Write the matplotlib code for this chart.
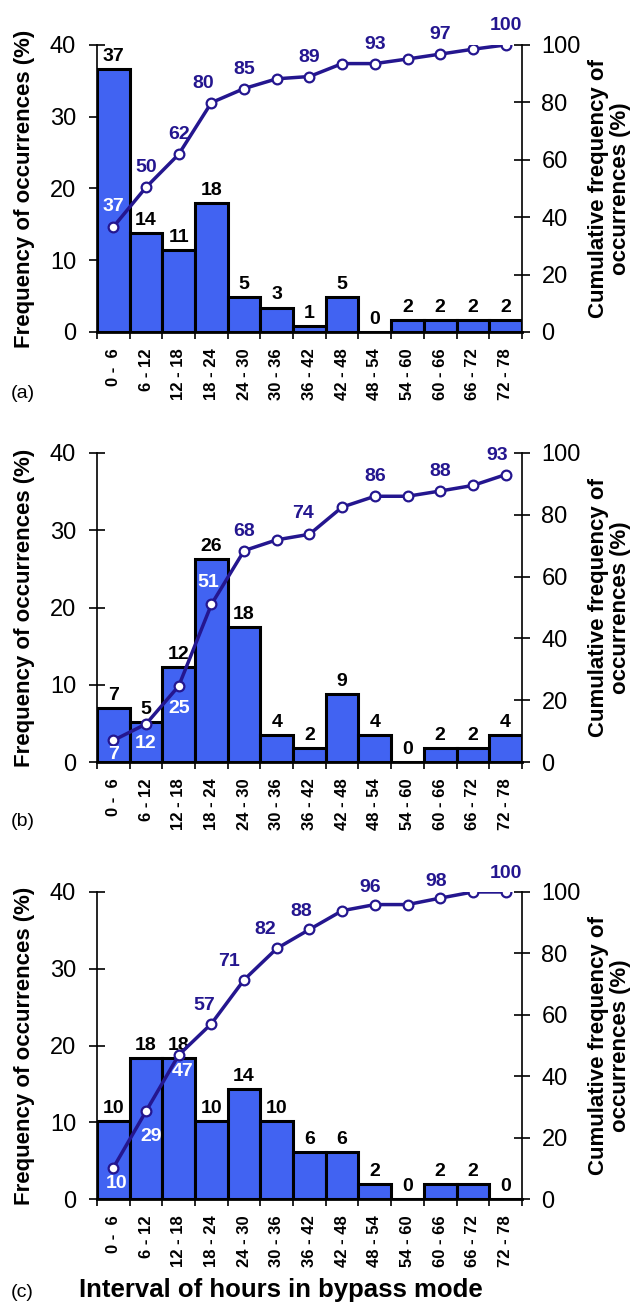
import matplotlib.pyplot as plt

# categories (hours in bypass mode)
intervals = ["0 -  6", "6 - 12", "12 - 18", "18 - 24", "24 - 30", "30 - 36", "36 - 42",
             "42 - 48", "48 - 54", "54 - 60", "60 - 66", "66 - 72", "72 - 78"]

# panel (a)
freq_a = [36.6, 13.8, 11.4, 18.0, 4.9, 3.4, 0.8, 4.9, 0.0, 1.6, 1.6, 1.6, 1.6]
cum_a = [36.6, 50.4, 61.9, 79.9, 84.8, 88.2, 89.0, 93.5, 93.5, 95.1, 96.8, 98.5, 100.0]
cum_lbl_a = [37, 50, 62, 80, 85, None, 89, None, 93, None, 97, None, 100]

# panel (b)
freq_b = [7.0, 5.2, 12.3, 26.3, 17.5, 3.5, 1.8, 8.8, 3.5, 0.0, 1.8, 1.8, 3.5]
cum_b = [7.0, 12.3, 24.6, 51.0, 68.4, 71.9, 73.7, 82.5, 86.0, 86.0, 87.7, 89.5, 93.0]
cum_lbl_b = [7, 12, 25, 51, 68, None, 74, None, 86, None, 88, None, 93]

# panel (c)
freq_c = [10.2, 18.4, 18.4, 10.2, 14.3, 10.2, 6.1, 6.1, 2.0, 0.0, 2.0, 2.0, 0.0]
cum_c = [10.2, 28.6, 46.9, 57.1, 71.4, 81.6, 87.8, 93.9, 95.9, 95.9, 98.0, 100.0, 100.0]
cum_lbl_c = [10, 29, 47, 57, 71, 82, 88, None, 96, None, 98, None, 100]

BAR = "#4163F2"
NAVY = "#24168F"
FONT = "Liberation Sans"

# label placement (dx, dy in points, colour) for the cumulative labels
place_a = {0: (0, 15, "white"), 3: (-6, 14, NAVY)}
place_b = {0: (0, -10, "white"), 1: (0, -14, "white"), 2: (0, -16, "white"),
           3: (-2, 16, "white"), 6: (-5, 15, NAVY), 12: (-6, 14, NAVY)}
place_c = {0: (2, -11, "white"), 1: (4, -18, "white"), 2: (3, -12, "white"),
           3: (-5, 13, NAVY), 4: (-11, 13, NAVY), 5: (-8, 14, NAVY),
           6: (-6, 13, NAVY), 8: (-3, 12, NAVY), 10: (-3, 12, NAVY), 12: (0, 13, NAVY)}

plt.rcParams['font.family'] = [FONT, 'DejaVu Sans']

fig = plt.figure(figsize=(6.39, 13.1), dpi=100)

panels = [
    (freq_a, cum_a, cum_lbl_a, place_a, [0.1518, 0.7466, 0.665, 0.2191], "(a)", 0.700),
    (freq_b, cum_b, cum_lbl_b, place_b, [0.1518, 0.4183, 0.665, 0.2359], "(b)", 0.373),
    (freq_c, cum_c, cum_lbl_c, place_c, [0.1518, 0.0847, 0.665, 0.2344], "(c)", 0.013),
]

x = list(range(len(intervals)))

for freq, cum, cum_lbl, place, rect, tag, tag_y in panels:
    ax = fig.add_axes(rect)
    ax.bar(x, freq, width=1.0, color=BAR, edgecolor="black", linewidth=2.2, zorder=2)
    for i, v in enumerate(freq):
        ax.annotate(f"{round(v)}", (i, v), xytext=(0, 3), textcoords="offset points",
                    ha="center", va="bottom", fontsize=14, fontweight="bold")
    ax.set_xlim(-0.5, 12.5)
    ax.set_ylim(0, 40)
    ax.set_yticks([0, 10, 20, 30, 40])
    ax.set_xticks(x)
    ax.set_xticklabels(intervals, rotation=90, fontsize=12, fontweight="bold")
    ax.set_xticks([i - 0.5 for i in range(len(intervals) + 1)], minor=True)
    ax.tick_params(axis="x", which="major", length=0, pad=12)
    ax.tick_params(axis="x", which="minor", length=5, width=1.2, direction="out")
    ax.tick_params(axis="y", direction="inout", length=12, width=1.2, labelsize=17, pad=9)
    ax.spines["top"].set_visible(False)
    ax.spines["right"].set_visible(False)
    ax.spines["bottom"].set_linewidth(2)
    ax.spines["left"].set_linewidth(1.2)
    ax.set_ylabel("Frequency of occurrences (%)", fontsize=16, fontweight="bold")
    ax.yaxis.set_label_coords(-0.145, 0.5)

    ax2 = ax.twinx()
    ax2.plot(x, cum, color=NAVY, linewidth=2.5, marker="o", markersize=7,
             markerfacecolor="white", markeredgecolor=NAVY, markeredgewidth=1.6, zorder=3)
    for i, lbl in enumerate(cum_lbl):
        if lbl is None:
            continue
        dx, dy, col = place.get(i, (0, 14, NAVY))
        ax2.annotate(f"{lbl}", (i, cum[i]), xytext=(dx, dy), textcoords="offset points",
                     ha="center", va="center", fontsize=14, fontweight="bold", color=col)
    ax2.set_ylim(0, 100)
    ax2.set_yticks([0, 20, 40, 60, 80, 100])
    ax2.tick_params(axis="y", direction="inout", length=12, width=1.2, labelsize=17, pad=8)
    ax2.spines["top"].set_visible(False)
    ax2.spines["left"].set_visible(False)
    ax2.spines["bottom"].set_visible(False)
    ax2.spines["right"].set_linewidth(1.2)
    ax2.set_ylabel("Cumulative frequency of\noccurrences (%)", fontsize=16,
                   fontweight="bold", rotation=90, linespacing=1.1)
    ax2.yaxis.set_label_coords(1.155, 0.5)
    ax2.set_zorder(ax.get_zorder() + 1)
    ax2.patch.set_visible(False)

    fig.text(0.035, tag_y, tag, fontsize=14, ha="center", va="center")

fig.text(0.44, 0.015, "Interval of hours in bypass mode", fontsize=18.5,
         fontweight="bold", ha="center", va="center")

fig.savefig("out.png", dpi=100)
